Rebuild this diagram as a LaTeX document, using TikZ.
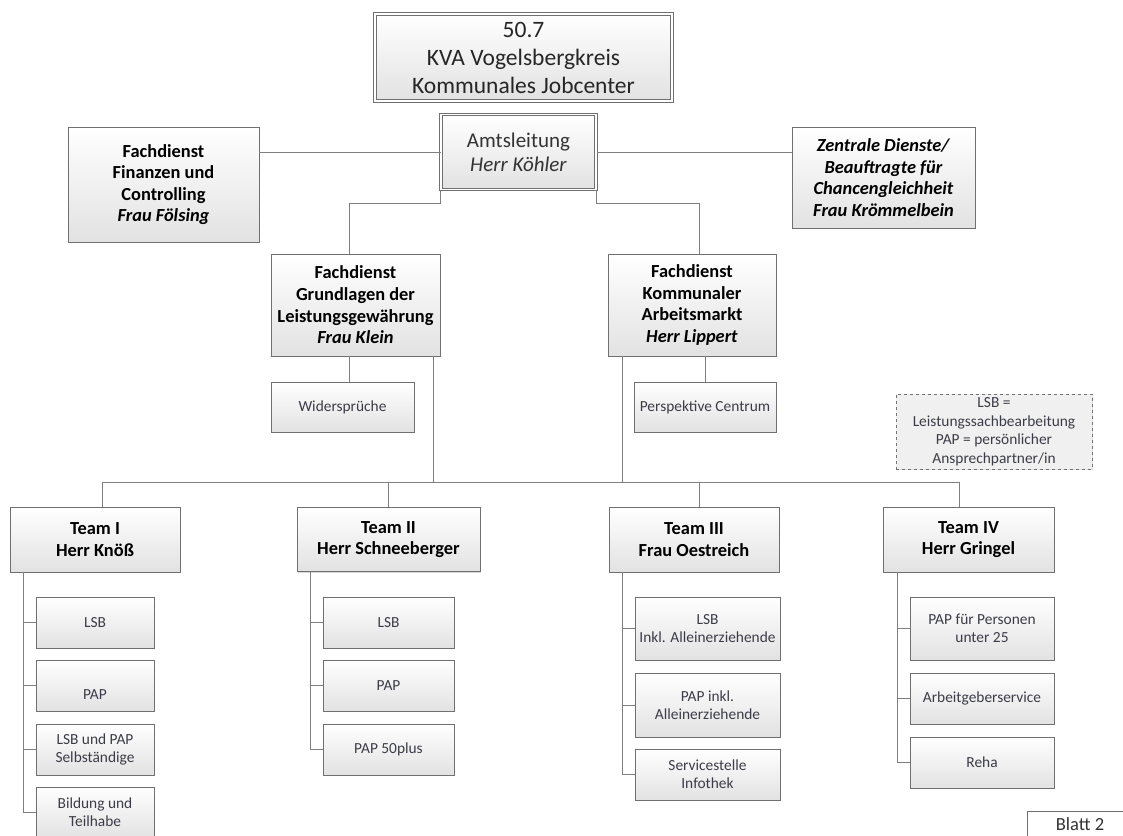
\documentclass[tikz,border=0pt]{standalone}
\usepackage{fontspec}
\setmainfont{Carlito}
\usetikzlibrary{shadows}
\definecolor{linec}{HTML}{7F7F7F}
\definecolor{boxline}{HTML}{707070}
\definecolor{boxbot}{HTML}{E2E2E2}
\definecolor{subtext}{HTML}{3C3C48}
\definecolor{legfill}{HTML}{F0F0F0}
\tikzset{
  box/.style={draw=boxline, line width=0.9pt, top color=white, bottom color=boxbot,
    align=center, inner sep=0pt,
    drop shadow={shadow xshift=1.3pt, shadow yshift=-1.3pt, opacity=0.3, fill=black!50}},
  dbox/.style={box, double=white, double distance=1.8pt, line width=1pt},
  wh/.style 2 args={minimum width=#1pt, minimum height=#2pt},
  headtxt/.style={font=\fontsize{18.4}{21.6}\selectfont\bfseries, text=black},
  subbox/.style={box, font=\fontsize{15.4}{18}\selectfont, text=subtext},
  conn/.style={draw=linec, line width=1pt},
  legendbox/.style={draw=black!55, dashed, line width=0.9pt, fill=legfill, align=center,
    inner sep=0pt, font=\fontsize{15.4}{18.5}\selectfont, text=subtext,
    drop shadow={shadow xshift=1.3pt, shadow yshift=-1.3pt, opacity=0.25, fill=black!50}},
}
\begin{document}
\begin{tikzpicture}[x=1pt,y=-1pt]
\useasboundingbox (0,0) rectangle (1123,835);
\fill[white] (0,0) rectangle (1123,835);

% top
\node[dbox, wh={297}{87}, font=\fontsize{23.5}{28}\selectfont, text=black!85] (title) at (523.5,57.5)
  {50.7\\KVA Vogelsbergkreis\\Kommunales Jobcenter};
\node[dbox, wh={155}{75}, font=\fontsize{21}{24}\selectfont, text=black!80] (amts) at (518.5,152)
  {Amtsleitung\\\textit{Herr Köhler}};
\node[box, wh={191}{115}, headtxt] (fin) at (163.5,184.5)
  {Fachdienst\\Finanzen und\\Controlling\\\textit{Frau Fölsing}};
\node[box, wh={183}{101}, headtxt] (zen) at (883.5,177.5)
  {\textit{Zentrale Dienste/}\\\textit{Beauftragte für}\\\textit{Chancengleichheit}\\\textit{Frau Krömmelbein}};

% Fachdienste
\node[box, wh={169}{102}, headtxt] (grund) at (355.5,305)
  {Fachdienst\\Grundlagen der\\Leistungsgewährung\\\textit{Frau Klein}};
\node[box, wh={168}{102}, headtxt] (arb) at (692,305)
  {Fachdienst\\Kommunaler\\Arbeitsmarkt\\\textit{Herr Lippert}};
\node[subbox, wh={143}{50}] (wid) at (342.5,407) {Widersprüche};
\node[subbox, wh={142}{50}] (per) at (705,407) {Perspektive Centrum};

% legend
\node[legendbox, wh={196}{75}] (leg) at (994,431.5)
  {LSB =\\Leistungssachbearbeitung\\PAP = persönlicher\\Ansprechpartner/in};

% teams
\node[box, wh={170}{65}, headtxt] (t1) at (95,539.5) {Team I\\Herr Knöß};
\node[box, wh={183}{64}, headtxt] (t2) at (388.5,539.5) {Team II\\Herr Schneeberger};
\node[box, wh={170}{65}, headtxt] (t3) at (694,539.5) {Team III\\Frau Oestreich};
\node[box, wh={171}{65}, headtxt] (t4) at (968.5,539.5) {Team IV\\Herr Gringel};

% Team I subs
\node[subbox, wh={118}{51}] (s11) at (95,622.5) {LSB};
\node[subbox, wh={118}{51}] (s12) at (95,685.5) {\phantom{P}\\PAP};
\node[subbox, wh={118}{51}] (s13) at (95,749.5) {LSB und PAP\\Selbständige};
\node[subbox, wh={118}{51}] (s14) at (95,812.5) {Bildung und\\Teilhabe};
% Team II subs
\node[subbox, wh={131}{51}] (s21) at (388.5,622.5) {LSB};
\node[subbox, wh={131}{51}] (s22) at (388.5,685.5) {PAP};
\node[subbox, wh={131}{51}] (s23) at (388.5,749.5) {PAP 50plus};
% Team III subs
\node[subbox, wh={145}{63}] (s31) at (707.5,628.5) {LSB\\Inkl. Alleinerziehende};
\node[subbox, wh={145}{64}] (s32) at (707.5,705) {PAP inkl.\\Alleinerziehende};
\node[subbox, wh={145}{51}] (s33) at (707.5,774.5) {Servicestelle\\Infothek};
% Team IV subs
\node[subbox, wh={144}{63}] (s41) at (982,628.5) {PAP für Personen\\unter 25};
\node[subbox, wh={144}{51}] (s42) at (982,698.5) {Arbeitgeberservice};
\node[subbox, wh={144}{51}] (s43) at (982,762.5) {Reha};

% Blatt 2
\node[draw=boxline, line width=0.9pt, fill=white, wh={106}{26}, inner sep=0pt,
  font=\fontsize{18.5}{20}\selectfont, text=black!80] (blatt) at (1080,824) {Blatt 2};

% connectors
\coordinate (jl) at (349,203);
\coordinate (jr) at (699,203);
\coordinate (b1) at (433,482);
\coordinate (b2) at (622,482);
\coordinate (d1) at (102,482);
\coordinate (d2) at (388,482);
\coordinate (d3) at (699,482);
\coordinate (d4) at (959,482);
\coordinate (v1) at (23,0);
\coordinate (v2) at (310,0);
\coordinate (v3) at (622,0);
\coordinate (v4) at (897,0);
\coordinate (wx) at (349,0);

\draw[conn] (amts.west) -- (amts.west -| fin.east);
\draw[conn] (amts.east) -- (amts.east -| zen.west);
\draw[conn] (amts.south west) |- (jl) -- (jl |- grund.north);
\draw[conn] (amts.south east) |- (jr) -- (jr |- arb.north);
\draw[conn] (wx |- grund.south) -- (wx |- wid.north);
\draw[conn] (per.north) -- (per.north |- arb.south);
\draw[conn] (b1 |- grund.south) -- (b1);
\draw[conn] (b2 |- arb.south) -- (b2);
\draw[conn] (d1) -- (d4);
\draw[conn] (d1) -- (d1 |- t1.north);
\draw[conn] (d2) -- (d2 |- t2.north);
\draw[conn] (d3) -- (d3 |- t3.north);
\draw[conn] (d4) -- (d4 |- t4.north);

\draw[conn] (v1 |- t1.south) |- (s14.west);
\foreach \s in {s11,s12,s13} \draw[conn] (v1 |- \s.west) -- (\s.west);
\draw[conn] (v2 |- t2.south) |- (s23.west);
\foreach \s in {s21,s22} \draw[conn] (v2 |- \s.west) -- (\s.west);
\draw[conn] (v3 |- t3.south) |- (s33.west);
\foreach \s in {s31,s32} \draw[conn] (v3 |- \s.west) -- (\s.west);
\draw[conn] (v4 |- t4.south) |- (s43.west);
\foreach \s in {s41,s42} \draw[conn] (v4 |- \s.west) -- (\s.west);
\end{tikzpicture}
\end{document}
